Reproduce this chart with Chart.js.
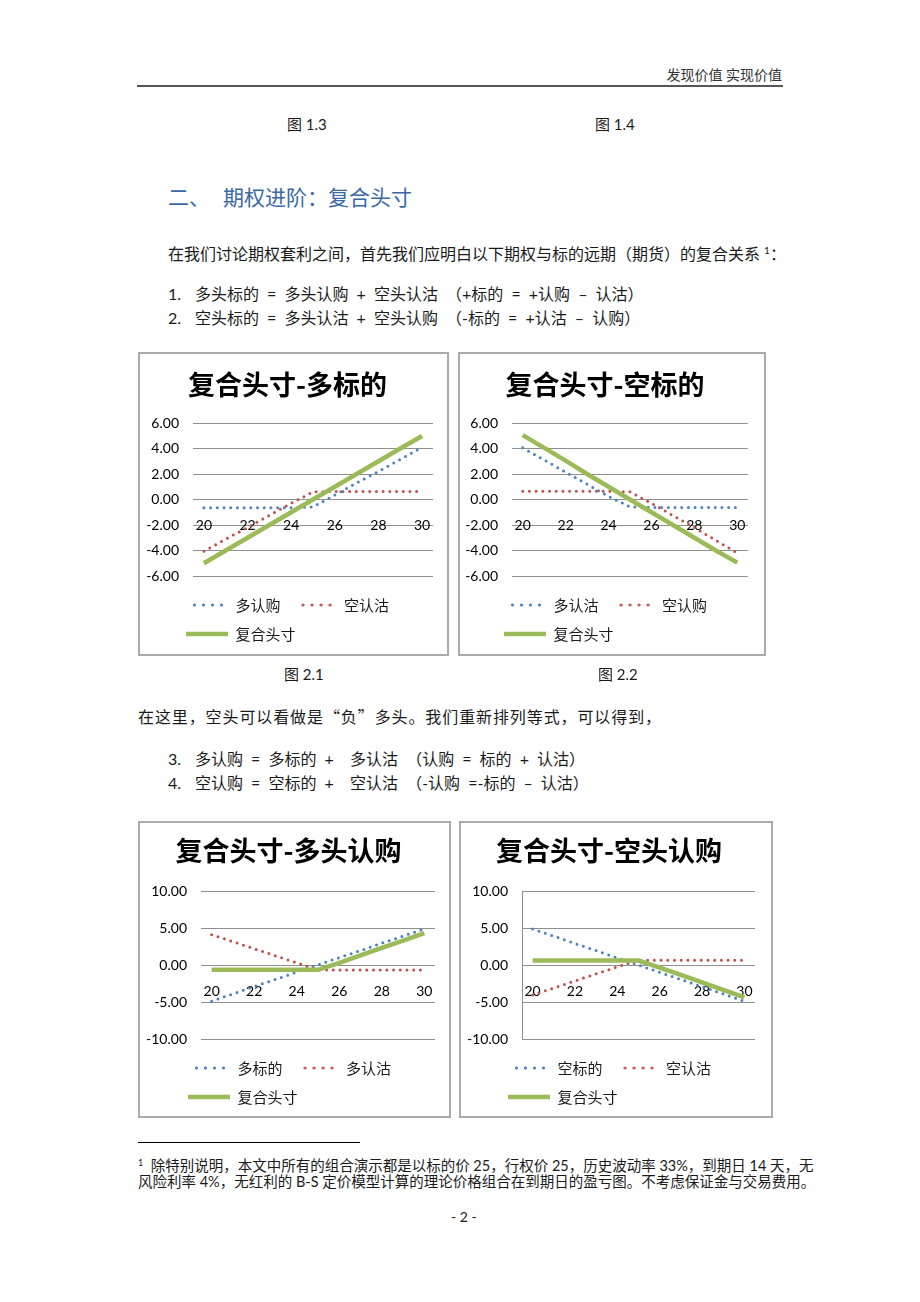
<!DOCTYPE html>
<html lang="zh-CN">
<head>
<meta charset="UTF-8">
<title>复合头寸</title>
<script src="https://cdn.jsdelivr.net/npm/chart.js"></script>
<style>
  body { margin: 0; background: #fff; width: 920px; height: 1302px; position: relative; overflow: hidden;
         font-family: Lato, "Noto Sans CJK SC", sans-serif; color: #1a1a1a; }
  .t { position: absolute; white-space: pre; line-height: 20px; font-size: 16px; }
  .list { word-spacing: 4px; }
  .q { font-family: "Noto Sans CJK SC", sans-serif; }
  .box { position: absolute; }
  .box canvas { position: absolute; left: 0; top: 0; }
  .box .frame { position: absolute; left: 0; top: 0; right: 0; bottom: 0; border: 2px solid #ababab;
                box-sizing: border-box; pointer-events: none; }
</style>
</head>
<body>

<div class="t" style="right:138px; top:65px; font-size:14px; color:#333;">发现价值 实现价值</div>
<div style="position:absolute; left:137px; top:85px; width:646px; height:2px; background:#555;"></div>

<div class="t" style="left:287px; top:114px; font-size:15px;">图 1.3</div>
<div class="t" style="left:595px; top:114px; font-size:15px;">图 1.4</div>

<div class="t" style="left:168px; top:185px; font-size:21px; line-height:24px; color:#3a68a6;">二、</div>
<div class="t" style="left:223px; top:185px; font-size:21px; line-height:24px; color:#3a68a6;">期权进阶：复合头寸</div>

<div class="t" style="left:168px; top:240px;">在我们讨论期权套利之间，首先我们应明白以下期权与标的远期（期货）的复合关系 <span style="font-size:10px; vertical-align:6px;">1</span>：</div>

<div class="t" style="left:168px; top:284px;">1.</div>
<div class="t list" style="left:195px; top:284px;">多头标的 = 多头认购 + 空头认沽 （+标的 = +认购 – 认沽）</div>
<div class="t" style="left:168px; top:308px;">2.</div>
<div class="t list" style="left:195px; top:308px;">空头标的 = 多头认沽 + 空头认购 （-标的 = +认沽 – 认购）</div>

<div class="box" id="b1"><canvas id="c1"></canvas><div class="frame"></div></div>
<div class="box" id="b2"><canvas id="c2"></canvas><div class="frame"></div></div>

<div class="t" style="left:284px; top:664px; font-size:15px;">图 2.1</div>
<div class="t" style="left:598px; top:664px; font-size:15px;">图 2.2</div>

<div class="t" style="left:138px; top:706px; letter-spacing:0.9px;">在这里，空头可以看做是<span class="q">“</span>负<span class="q">”</span>多头。我们重新排列等式，可以得到，</div>

<div class="t" style="left:168px; top:749px;">3.</div>
<div class="t list" style="left:195px; top:749px;">多认购 = 多标的 +  多认沽 （认购 = 标的 + 认沽）</div>
<div class="t" style="left:168px; top:773px;">4.</div>
<div class="t list" style="left:195px; top:773px;">空认购 = 空标的 +  空认沽 （-认购 =-标的 – 认沽）</div>

<div class="box" id="b3"><canvas id="c3"></canvas><div class="frame"></div></div>
<div class="box" id="b4"><canvas id="c4"></canvas><div class="frame"></div></div>

<div style="position:absolute; left:138px; top:1142px; width:222px; height:1px; background:#000;"></div>
<div class="t" style="left:138px; top:1153px; font-size:14.5px;"><span style="font-size:9px; vertical-align:5px;">1</span>  除特别说明，本文中所有的组合演示都是以标的价 25，行权价 25，历史波动率 33%，到期日 14 天，无</div>
<div class="t" style="left:138px; top:1172px; font-size:14.5px;">风险利率 4%，无红利的 B-S 定价模型计算的理论价格组合在到期日的盈亏图。不考虑保证金与交易费用。</div>

<div class="t" style="left:451px; top:1207px; font-size:14px;">- 2 -</div>

<script>
// x 轴：标的价格
const strikes = [20, 21, 22, 23, 24, 25, 26, 27, 28, 29, 30];
const xTickLabels = [20, 22, 24, 26, 28, 30];

// 图 2.1 复合头寸-多标的
const fig21Labels = ['多认购', '空认沽', '复合头寸'];
const fig21LongCall = [-0.65, -0.65, -0.65, -0.65, -0.65, -0.58, 0.35, 1.3, 2.2, 3.15, 4.1];
const fig21ShortPut = [-4.05, -3.1, -2.2, -1.25, -0.3, 0.6, 0.63, 0.63, 0.63, 0.63, 0.63];
const fig21Combo = [-5, -4, -3, -2, -1, 0, 1, 2, 3, 4, 4.98];

// 图 2.2 复合头寸-空标的
const fig22Labels = ['多认沽', '空认购', '复合头寸'];
const fig22LongPut = [4.05, 3.1, 2.15, 1.2, 0.25, -0.58, -0.62, -0.62, -0.62, -0.62, -0.62];
const fig22ShortCall = [0.65, 0.65, 0.65, 0.65, 0.65, 0.6, -0.3, -1.25, -2.2, -3.2, -4.2];
const fig22Combo = [5.05, 4.05, 3.05, 2, 1, 0, -1, -2, -3, -4, -4.95];

// 复合头寸-多头认购
const fig23Labels = ['多标的', '多认沽', '复合头寸'];
const fig23LongUnderlying = [-4.9, -3.9, -2.9, -1.95, -0.95, 0, 1, 1.95, 2.95, 3.9, 4.9];
const fig23LongPut = [4.1, 3.15, 2.2, 1.25, 0.3, -0.65, -0.68, -0.68, -0.68, -0.68, -0.68];
const fig23Combo = [-0.65, -0.65, -0.65, -0.65, -0.65, -0.65, 0.3, 1.3, 2.3, 3.3, 4.3];

// 复合头寸-空头认购
const fig24Labels = ['空标的', '空认沽', '复合头寸'];
const fig24ShortUnderlying = [4.85, 3.9, 2.9, 1.95, 0.95, 0, -1, -1.95, -2.95, -3.9, -4.9];
const fig24ShortPut = [-4.05, -3.1, -2.15, -1.2, -0.25, 0.63, 0.63, 0.63, 0.63, 0.63, 0.63];
const fig24Combo = [0.6, 0.6, 0.6, 0.6, 0.6, 0.6, -0.35, -1.35, -2.35, -3.35, -4.38];

const BLUE = '#4f81bd', RED = '#c0504d', GREEN = '#9bbb59';
const GRID = '#8f8f8f';
const cjk = '"Noto Sans CJK SC", sans-serif';

// legend samples, drawn once
function dotSample(color) {
  const c = document.createElement('canvas');
  c.width = 42; c.height = 6;
  const g = c.getContext('2d');
  g.fillStyle = color;
  [8.5, 17.5, 26.5, 35.5].forEach(x => {
    g.beginPath(); g.arc(x, 3, 1.6, 0, Math.PI * 2); g.fill();
  });
  return c;
}
function lineSample(color) {
  const c = document.createElement('canvas');
  c.width = 42; c.height = 6;
  const g = c.getContext('2d');
  g.fillStyle = color;
  g.fillRect(0, 0.75, 42, 4.5);
  return c;
}
const samples = [dotSample(BLUE), dotSample(RED), lineSample(GREEN)];

function dotted(label, data, color) {
  return { label, data, borderColor: color, backgroundColor: color, borderWidth: 3,
           borderDash: [0, 6.7], borderCapStyle: 'round', pointRadius: 0, tension: 0, fill: false, order: 1 };
}
function solid(label, data, color) {
  return { label, data, borderColor: color, backgroundColor: color, borderWidth: 4.5,
           pointRadius: 0, tension: 0, fill: false, order: 0 };
}

function makeChart(c) {
  const [bx, by, bw, bh] = c.box;
  const [al, at, ar, ab] = c.area;
  const box = document.getElementById(c.box_id);
  Object.assign(box.style, { left: bx + 'px', top: by + 'px', width: bw + 'px', height: bh + 'px' });
  const canvas = document.getElementById(c.id);
  canvas.width = bw; canvas.height = bh;

  const legendPad = 14, legendTitleH = 7.5;
  const legendH = legendTitleH + 2 * (15 + legendPad) + 10;
  const padLeft = 4;
  // legend starts further right than the y labels do
  const dx = c.legendX - legendPad - padLeft;
  const legendShift = {
    id: 'legendShift',
    afterLayout(chart) { chart.legend.left += dx; chart.legend.right += dx; }
  };

  new Chart(canvas, {
    type: 'line',
    data: {
      labels: strikes,
      datasets: [
        dotted(c.labels[0], c.series[0], BLUE),
        dotted(c.labels[1], c.series[1], RED),
        solid(c.labels[2], c.series[2], GREEN)
      ]
    },
    plugins: [legendShift],
    options: {
      responsive: false,
      animation: false,
      devicePixelRatio: 1,
      events: [],
      layout: { padding: { left: padLeft, right: bw - ar, top: 0, bottom: bh - ab - legendH } },
      scales: {
        x: {
          type: 'category',
          offset: true,
          position: { y: 0 },
          grid: { display: false },
          border: { display: false },
          ticks: {
            autoSkip: false, maxRotation: 0, padding: 10, color: '#000',
            font: { family: 'Lato', size: 14 },
            callback: (v, i) => xTickLabels.includes(strikes[i]) ? String(strikes[i]) : ''
          }
        },
        y: {
          min: c.yMin, max: c.yMax,
          afterFit: s => { s.width = al - padLeft; },
          grid: { color: GRID, lineWidth: 1, drawTicks: false },
          border: { display: c.yAxisLine, color: GRID, width: 1 },
          ticks: {
            stepSize: c.yStep, padding: 14, color: '#000',
            font: { family: 'Lato', size: 14 },
            callback: v => v.toFixed(2)
          }
        }
      },
      plugins: {
        tooltip: { enabled: false },
        title: {
          display: true, text: c.title, color: '#000',
          font: { family: cjk, size: 27, weight: 'bold', lineHeight: 1.2 },
          padding: { top: c.titleY - 16.2, bottom: at - c.titleY - 16.2 }
        },
        legend: {
          position: 'bottom', align: 'start',
          title: { display: true, text: '', font: { size: legendTitleH, lineHeight: 1 }, padding: 0 },
          labels: {
            usePointStyle: true, pointStyleWidth: 42, padding: legendPad, color: '#1a1a1a',
            font: { family: cjk, size: 15 },
            generateLabels: chart => chart.data.datasets.map((ds, i) => ({
              text: ds.label, pointStyle: samples[i], datasetIndex: i, hidden: false,
              fillStyle: 'transparent', strokeStyle: 'transparent', lineWidth: 0, fontColor: '#1a1a1a'
            }))
          }
        }
      }
    }
  });
}

const charts = [
  { id: 'c1', box_id: 'b1', title: '复合头寸-多标的', labels: fig21Labels,
    series: [fig21LongCall, fig21ShortPut, fig21Combo], yMin: -6, yMax: 6, yStep: 2, yAxisLine: false,
    box: [138, 352, 311, 304], area: [55, 71, 295, 224], legendX: 48, titleY: 32.5 },
  { id: 'c2', box_id: 'b2', title: '复合头寸-空标的', labels: fig22Labels,
    series: [fig22LongPut, fig22ShortCall, fig22Combo], yMin: -6, yMax: 6, yStep: 2, yAxisLine: false,
    box: [458, 352, 308, 304], area: [54, 71, 290, 224], legendX: 46, titleY: 32.5 },
  { id: 'c3', box_id: 'b3', title: '复合头寸-多头认购', labels: fig23Labels,
    series: [fig23LongUnderlying, fig23LongPut, fig23Combo], yMin: -10, yMax: 10, yStep: 5, yAxisLine: false,
    box: [138, 821, 313, 297], area: [63, 70, 297, 218], legendX: 50, titleY: 30 },
  { id: 'c4', box_id: 'b4', title: '复合头寸-空头认购', labels: fig24Labels,
    series: [fig24ShortUnderlying, fig24ShortPut, fig24Combo], yMin: -10, yMax: 10, yStep: 5, yAxisLine: true,
    box: [459, 821, 314, 297], area: [63, 70, 296, 218], legendX: 49, titleY: 30 }
];
charts.forEach(makeChart);
</script>
</body>
</html>
